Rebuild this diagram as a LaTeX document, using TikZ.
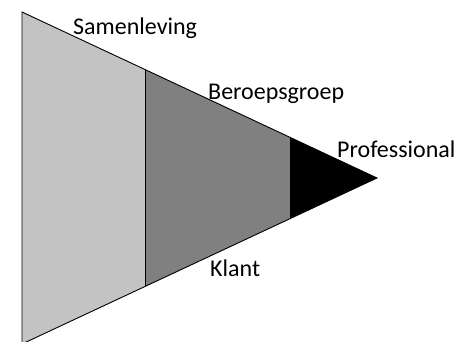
\documentclass[tikz,border=0pt]{standalone}
\usepackage{fontspec}
\setmainfont{Carlito}
\usetikzlibrary{calc}
\begin{document}
\begin{tikzpicture}[x=1pt,y=1pt,
  lbl/.style={anchor=base west,inner sep=0pt,font=\fontsize{24}{28}\selectfont,text=black},
  part/.style={draw=black,line width=0.9pt,line join=miter}]
\useasboundingbox (0,0) rectangle (473,342);
\coordinate (A) at (22,330);
\coordinate (B) at (22,-2);
\coordinate (C) at (377,164);
\coordinate (T1) at ($(A)!0.3465!(C)$);
\coordinate (B1) at ($(B)!0.3465!(C)$);
\coordinate (T2) at ($(A)!0.755!(C)$);
\coordinate (B2) at ($(B)!0.755!(C)$);
\fill[fill={rgb,255:red,195;green,195;blue,195}] (A) -- (T1) -- (B1) -- (B) -- cycle;
\fill[fill={rgb,255:red,128;green,128;blue,128}] (T1) -- (T2) -- (B2) -- (B1) -- cycle;
\fill[fill=black] (T2) -- (C) -- (B2) -- cycle;
\draw[part] (A) -- (C) -- (B) -- cycle;
\draw[part] (T1) -- (B1);
\draw[part] (T2) -- (B2);
\node[lbl] (s) at (73,307) {Samenleving};
\node[lbl] (b) at (208,242) {Beroepsgroep};
\node[lbl] (p) at (337,184) {Professional};
\node[lbl] (k) at (210,65) {Klant};
\end{tikzpicture}
\end{document}
